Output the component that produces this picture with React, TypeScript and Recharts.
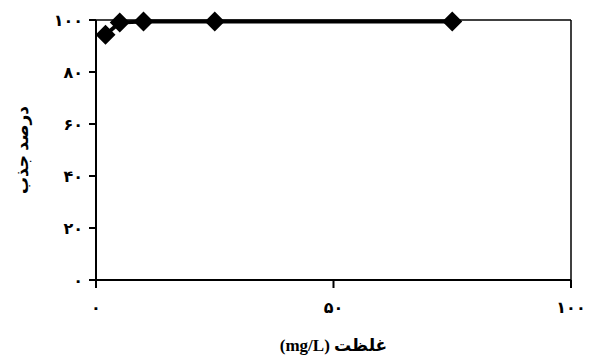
import { LineChart, Line, XAxis, YAxis, ReferenceLine } from "recharts"

const concentration = [2, 5, 10, 25, 75]
const adsorption = [94.3, 99, 99.4, 99.4, 99.4]
const xTicks = [0, 50, 100]
const yTicks = [0, 20, 40, 60, 80, 100]

const data = concentration.map((c, i) => ({ c, p: adsorption[i] }))

const faDigits = (v: number) =>
  String(v).replace(/[0-9]/g, (d) => "۰۱۲۳۴۵۶۷۸۹"[Number(d)])

const font = "'Liberation Serif', 'DejaVu Sans', serif"

const Diamond = (props: any) => {
  const { cx, cy } = props
  if (cx == null || cy == null) return null
  const r = 10
  return (
    <polygon
      points={`${cx},${cy - r} ${cx + r},${cy} ${cx},${cy + r} ${cx - r},${cy}`}
      fill="#000"
    />
  )
}

const XLabel = (props: any) => {
  const { x, y, width } = props.viewBox
  return (
    <text
      x={x + width / 2}
      y={y + 71}
      textAnchor="middle"
      fill="#000"
      fontSize={17}
      fontWeight="bold"
      fontFamily={font}
    >
      (mg/L) غلظت
    </text>
  )
}

const YLabel = (props: any) => {
  const { y, height } = props.viewBox
  const cx = 22
  const cy = y + height / 2
  return (
    <text
      x={cx}
      y={cy}
      transform={`rotate(-90, ${cx}, ${cy})`}
      textAnchor="middle"
      dominantBaseline="central"
      fill="#000"
      fontSize={17}
      fontWeight="bold"
      fontFamily={font}
    >
      درصد جذب
    </text>
  )
}

const App = () => {
  return (
    <div style={{ position: "absolute", left: 0, top: 0, background: "#fff" }}>
      <LineChart
        width={593}
        height={358}
        data={data}
        margin={{ top: 20, right: 22, left: 0, bottom: 48 }}
      >
        <XAxis
          dataKey="c"
          type="number"
          domain={[0, 100]}
          ticks={xTicks}
          tickFormatter={faDigits}
          height={30}
          stroke="#000"
          strokeWidth={2}
          tickSize={8}
          tick={{ fill: "#000", fontSize: 16, fontWeight: "bold", fontFamily: font, dy: 12 }}
          label={<XLabel />}
        />
        <YAxis
          type="number"
          domain={[0, 100]}
          ticks={yTicks}
          tickFormatter={faDigits}
          width={96}
          stroke="#000"
          strokeWidth={2}
          tickSize={7}
          tick={{ fill: "#000", fontSize: 16, fontWeight: "bold", fontFamily: font, dx: -4 }}
          label={<YLabel />}
        />
        <ReferenceLine y={100} stroke="#000" strokeWidth={1.5} />
        <ReferenceLine x={100} stroke="#000" strokeWidth={1.5} />
        <Line
          dataKey="p"
          stroke="#000"
          strokeWidth={4}
          dot={<Diamond />}
          activeDot={false}
          isAnimationActive={false}
        />
      </LineChart>
    </div>
  )
}

export default App
